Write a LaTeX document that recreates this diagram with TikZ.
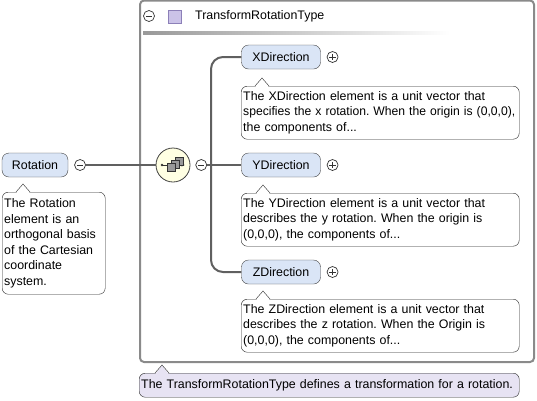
\documentclass[tikz,border=0pt]{standalone}
\usepackage{fontspec}
\setmainfont{Liberation Sans}
\usetikzlibrary{arrows.meta,positioning,calc}
\definecolor{XSDBlue}{HTML}{DAE5F6}
\definecolor{XSDLine}{HTML}{606060}
\definecolor{XSDFrame}{HTML}{8A8A8A}
\definecolor{XSDSeq}{HTML}{FFFFE3}
\definecolor{XSDNote}{HTML}{E7E3F3}
\definecolor{XSDType}{HTML}{CBC3E8}
\definecolor{XSDTypeLine}{HTML}{8C80B8}
\newcommand{\docfont}{\fontsize{12.4}{15.6}\selectfont\frenchspacing}
\newcommand{\fitline}[1]{\resizebox{272pt}{\height}{#1}}
\newcommand{\docpointer}[3]{%
  \fill[#3] ($(#1.north west)+(#2-7,1.5)$) -- ($(#1.north west)+(#2,-8)$) -- ($(#1.north west)+(#2+7,1.5)$) -- cycle;
  \draw[black!85] ($(#1.north west)+(#2-7,0)$) -- ($(#1.north west)+(#2,-8)$) -- ($(#1.north west)+(#2+7,0)$);}

\begin{document}
\begin{tikzpicture}[x=1pt,y=-1pt,
  elembox/.style={draw=black!75,fill=XSDBlue,rounded corners=7pt,minimum width=79pt,minimum height=24pt,inner sep=0pt,font=\docfont},
  docbox/.style={draw=black!85,fill=white,rounded corners=6pt,align=left,inner xsep=2pt,inner ysep=3pt,font=\docfont,anchor=north west},
  expsign/.style={circle,draw=black!80,fill=white,minimum size=11pt,inner sep=0pt,line width=0.7pt},
  expminus/.style={expsign,path picture={\draw[line width=0.7pt] ($(path picture bounding box.west)!0.22!(path picture bounding box.east)$) -- ($(path picture bounding box.west)!0.78!(path picture bounding box.east)$);}},
  expplus/.style={expsign,path picture={\draw[line width=0.7pt] ($(path picture bounding box.west)!0.22!(path picture bounding box.east)$) -- ($(path picture bounding box.west)!0.78!(path picture bounding box.east)$) ($(path picture bounding box.north)!0.22!(path picture bounding box.south)$) -- ($(path picture bounding box.north)!0.78!(path picture bounding box.south)$);}},
  seqnode/.style={circle,draw=black!75,fill=XSDSeq,minimum size=34pt,inner sep=0pt,line width=0.8pt},
  conn/.style={XSDLine,line width=2pt},
]
\useasboundingbox (0,0) rectangle (537,400);
% type frame and header
\draw[XSDFrame,line width=2pt,rounded corners=4pt] (140,0.5) rectangle (534,362);
\node[expminus] (typeminus) at (149,16) {};
\node[draw=XSDTypeLine,fill=XSDType,minimum size=13pt,inner sep=0pt] (typeicon) at (174.5,16.5) {};
\node[anchor=west,font=\docfont,inner sep=0pt] (typename) at (195,16) {TransformRotationType};
\shade[left color=black!40,right color=white] (143,31) rectangle (450,34);
% root element
\node[elembox,minimum width=66pt] (rot) at (35,165) {Rotation};
\node[expminus,right=6pt of rot] (rotminus) {};
\node[docbox,text width=99pt,minimum height=102pt] (rotdoc) at (2,192) {The Rotation\\element is an\\orthogonal basis\\of the Cartesian\\coordinate\\system.};
\docpointer{rotdoc}{21}{white}
% sequence compositor
\node[seqnode] (seq) at (173,165) {};
\node[expminus,right=5pt of seq] (seqminus) {};
\coordinate (bus) at (211,165);
\begin{scope}[shift={(seq.center)}]
  \draw[black!80,line width=0.8pt,-{Latex[length=3.5pt,width=3.5pt]}] (-11,0) -- (12,0);
  \fill[black!80] (-11,0) circle (1.3pt);
  \foreach \d in {2,1,0}
    \draw[black!80,fill=black!40] (-6+4*\d,-2-3*\d) rectangle +(8,8);
\end{scope}
% child elements
\node[elembox] (xdir) at (281,57) {XDirection};
\node[expplus,right=6pt of xdir] (xplus) {};
\node[docbox,text width=274pt,minimum height=53pt] (xdoc) at (241,86) {The XDirection element is a unit vector that\\\fitline{specifies the x rotation. When the origin is (0,0,0),}\\the components of...};
\docpointer{xdoc}{21}{white}
\node[elembox] (ydir) at (281,165) {YDirection};
\node[expplus,right=6pt of ydir] (yplus) {};
\node[docbox,text width=274pt,minimum height=53pt] (ydoc) at (241,193) {The YDirection element is a unit vector that\\describes the y rotation. When the origin is\\(0,0,0), the components of...};
\docpointer{ydoc}{22}{white}
\node[elembox] (zdir) at (281,272) {ZDirection};
\node[expplus,right=6pt of zdir] (zplus) {};
\node[docbox,text width=274pt,minimum height=53pt] (zdoc) at (241,299) {The ZDirection element is a unit vector that\\describes the z rotation. When the Origin is\\(0,0,0), the components of...};
\docpointer{zdoc}{22}{white}
% connectors
\draw[conn] (rotminus) -- (seq);
\draw[conn] (seqminus) -- (ydir);
\draw[conn,rounded corners=12pt] (xdir.west) -| (bus) |- (zdir.west);
% type documentation
\node[docbox,fill=XSDNote,text width=376pt,minimum height=24pt] (typedoc) at (139,373) {The TransformRotationType defines a transformation for a rotation.};
\docpointer{typedoc}{23}{XSDNote}
\end{tikzpicture}
\end{document}
